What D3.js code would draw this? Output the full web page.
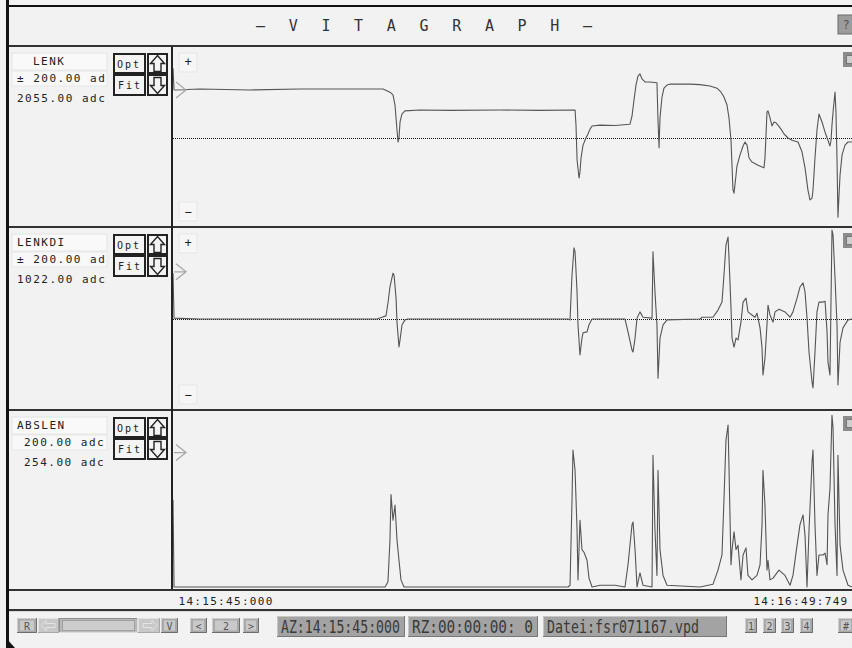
<!DOCTYPE html>
<html>
<head>
<meta charset="utf-8">
<script src="https://cdn.jsdelivr.net/npm/d3@7"></script>
<style>
  html, body { margin: 0; padding: 0; background: #f2f2f2; }
  svg { display: block; }
  text { font-family: "DejaVu Sans Mono", "Liberation Mono", monospace; }
</style>
</head>
<body>
<svg id="chart" width="852" height="648"></svg>
<script>
// ---- recorded channels (time in seconds after 14:15:45.000, values in adc) ----
const lenkT = [0.00,0.10,2.57,7.34,12.11,16.88,20.03,20.69,20.98,21.17,21.36,21.46,21.55,21.65,21.84,22.12,23.55,26.42,31.18,35.00,38.34,38.43,38.53,38.72,38.81,38.91,39.10,39.38,39.57,39.77,39.96,40.72,42.15,43.58,43.77,43.96,44.15,44.34,44.53,44.72,45.01,45.49,46.15,46.25,46.35,46.44,46.63,46.82,47.11,47.39,49.30,50.26,51.21,51.88,52.26,52.54,52.83,53.02,53.21,53.40,53.50,53.69,53.78,54.07,54.36,54.55,54.74,54.93,55.21,55.79,56.17,56.36,56.45,56.55,56.64,56.74,56.93,57.12,57.31,57.50,57.69,57.98,58.27,58.65,59.03,59.60,59.98,60.27,60.55,60.74,60.94,61.03,61.22,61.41,61.60,61.89,62.18,62.46,62.65,62.75,62.84,62.94,63.13,63.22,63.32,63.41,63.51,63.61,63.80,64.08,64.37,64.749];
const lenk  = [2212,2163,2165,2163,2165,2165,2165,2158,2152,2129,2073,2046,2055,2091,2109,2116,2118,2117,2118,2117,2118,2084,2006,1965,1979,2010,2039,2055,2064,2075,2082,2084,2083,2086,2104,2140,2174,2194,2199,2188,2181,2181,2179,2095,2033,2100,2147,2167,2174,2176,2176,2175,2172,2167,2158,2147,2129,2100,2050,1938,1931,1972,1992,2017,2037,2046,2039,2010,2001,1994,1990,1988,2010,2062,2113,2116,2100,2082,2091,2089,2084,2075,2064,2055,2050,2046,2024,1988,1938,1916,1920,1938,2010,2073,2109,2091,2068,2050,2037,2050,2084,2113,2158,2113,2006,1877,1927,1972,2017,2039,2046,2046];

const lenkdiT = [0.00,0.10,2.57,19.45,19.93,20.31,20.50,20.69,20.98,21.08,21.27,21.36,21.55,21.65,21.84,22.12,22.41,37.67,37.86,38.05,38.24,38.34,38.53,38.62,38.81,39.00,39.10,39.48,39.67,39.96,43.10,43.39,43.77,43.87,44.06,44.25,44.53,44.82,45.68,45.77,45.96,46.15,46.25,46.44,46.73,47.11,50.26,50.45,51.49,51.97,52.35,52.54,52.73,52.93,53.02,53.21,53.31,53.50,53.69,53.88,54.16,54.36,54.64,54.83,55.21,55.50,55.69,55.98,56.17,56.26,56.45,56.64,56.74,56.93,57.22,57.41,57.79,58.36,58.84,59.12,59.51,59.79,60.08,60.27,60.46,60.65,60.94,61.03,61.22,61.41,61.60,61.98,62.18,62.37,62.46,62.65,62.84,62.94,63.13,63.32,63.41,63.61,63.89,64.37,64.749];
const lenkdi  = [1125,1024,1022,1022,1026,1029,1058,1094,1125,1121,1069,1015,959,975,1009,1020,1022,1022,1020,1121,1182,1173,1083,1009,941,979,991,993,1009,1022,1022,993,952,948,979,1024,1038,1026,1024,1173,1083,1009,889,979,1009,1020,1022,1026,1026,1042,1060,1121,1188,1206,1159,1047,979,959,979,975,1015,1060,1069,1038,1031,1026,1035,1002,957,896,934,1009,1053,1031,1015,1038,1044,1038,1026,1038,1069,1094,1103,1083,1024,948,880,867,948,1038,1060,1060,1062,993,925,896,1222,1211,1114,1009,874,970,1002,1020,1022];

const abslenT = [0.00,0.10,2.57,20.22,20.50,20.69,20.79,20.98,21.17,21.36,21.55,21.74,22.03,37.67,37.86,38.05,38.14,38.34,38.53,38.62,38.81,39.00,39.19,39.48,39.67,39.96,40.72,42.15,43.10,43.39,43.77,43.87,44.06,44.25,44.53,44.82,45.68,45.77,45.96,46.15,46.25,46.44,46.73,47.11,50.26,51.49,51.97,52.35,52.54,52.73,52.93,53.02,53.21,53.31,53.50,53.69,53.88,54.16,54.36,54.64,54.83,55.21,55.69,55.98,56.17,56.26,56.45,56.64,56.74,56.93,57.22,57.41,57.79,58.36,58.84,59.12,59.51,59.79,60.08,60.27,60.46,60.65,60.94,61.03,61.22,61.41,61.60,61.98,62.18,62.37,62.46,62.65,62.84,62.94,63.13,63.32,63.41,63.61,63.89,64.37,64.749];
const abslen  = [352,254,254,254,260,307,358,329,346,307,284,262,254,254,256,352,408,385,318,262,329,296,293,284,264,254,256,256,254,279,324,327,296,254,270,256,254,402,318,267,385,296,267,256,254,257,273,290,352,419,436,388,279,296,316,296,301,262,290,298,267,262,267,279,324,385,346,273,284,262,264,267,273,267,256,267,301,324,335,312,254,318,395,408,324,267,290,290,292,279,335,365,447,433,324,267,402,301,273,256,254];

// ---- axis and label texts ----
const timeTicks  = [0, 64.749];
const timeLabels = ["14:15:45:000", "14:16:49:749"];
const channelNames  = ["LENK", "LENKDI", "ABSLEN"];
const rangeLabels   = ["\u00b1 200.00 ad", "\u00b1 200.00 ad", "200.00 adc"];
const offsetLabels  = ["2055.00 adc", "1022.00 adc", "254.00 adc"];
const channelDomains = [[1855, 2255], [822, 1222], [254, 454]];
const zeroLines     = [2055, 1022, null];
const markerLevels  = [2163, 1128, 405];

const series = [
  { t: lenkT,   v: lenk },
  { t: lenkdiT, v: lenkdi },
  { t: abslenT, v: abslen }
];

// ---- layout ----
const W = 852, H = 648;
const plotLeft = 173, plotRight = 852;
const panels = [
  { top: 47,  bottom: 226, range: [227, 49] },
  { top: 228, bottom: 409, range: [408, 230] },
  { top: 411, bottom: 589, range: [587, 409] }
];

const svg = d3.select("#chart");
const ink = "#222";

svg.append("rect").attr("width", W).attr("height", H).attr("fill", "#f2f2f2");

const x = d3.scaleLinear().domain([timeTicks[0], timeTicks[1]]).range([plotLeft, plotRight]);

// ---- title bar ----
svg.append("rect").attr("x", 6).attr("y", 5).attr("width", W - 6).attr("height", 2).attr("fill", "#111");
svg.append("text")
  .attr("x", 256).attr("y", 26)
  .attr("dominant-baseline", "central")
  .attr("font-size", 15).attr("fill", "#333")
  .attr("textLength", 336).attr("lengthAdjust", "spacing")
  .text("\u2014 V I T A G R A P H \u2014");
svg.append("rect").attr("x", 838).attr("y", 15).attr("width", 16).attr("height", 19)
  .attr("fill", "#9c9c9c").attr("stroke", "#6a6a6a");
svg.append("text").attr("x", 846).attr("y", 25).attr("dominant-baseline", "central")
  .attr("text-anchor", "middle").attr("font-size", 12).attr("fill", "#555").text("?");

// ---- helpers ----
function hline(y, h, color, x0 = 6, x1 = W) {
  svg.append("rect").attr("x", x0).attr("y", y).attr("width", x1 - x0).attr("height", h).attr("fill", color);
}
function boxButton(g, bx, by, bw, bh) {
  g.append("rect").attr("x", bx + 1).attr("y", by + 1).attr("width", bw - 2).attr("height", bh - 2)
    .attr("fill", "#f4f4f4").attr("stroke", ink).attr("stroke-width", 2);
}
function arrowPath(cx, tipY, dir) {
  // hollow block arrow, dir = -1 for up, +1 for down
  const s = dir;
  const p = d3.path();
  p.moveTo(cx, tipY);
  p.lineTo(cx + 7, tipY - s * 8);
  p.lineTo(cx + 3.5, tipY - s * 8);
  p.lineTo(cx + 3.5, tipY - s * 16);
  p.lineTo(cx - 3.5, tipY - s * 16);
  p.lineTo(cx - 3.5, tipY - s * 8);
  p.lineTo(cx - 7, tipY - s * 8);
  p.closePath();
  return p.toString();
}

hline(45, 2, "#333");

// ---- channel panels ----
panels.forEach((pn, i) => {
  const y0 = pn.top;
  const g = svg.append("g");
  const y = d3.scaleLinear().domain(channelDomains[i]).range(pn.range);

  // label column
  g.append("rect").attr("x", 12).attr("y", y0 + 6).attr("width", 95).attr("height", 17)
    .attr("fill", "#f9f9f9").attr("stroke", "#e4e4e4");
  g.append("rect").attr("x", 12).attr("y", y0 + 24).attr("width", 95).attr("height", 15)
    .attr("fill", "#f8f8f8").attr("stroke", "#e8e8e8");
  g.append("text")
    .attr("x", i === 0 ? 33 : 17).attr("y", y0 + 14)
    .attr("dominant-baseline", "central")
    .attr("font-size", 11).attr("letter-spacing", 1.5).attr("fill", ink)
    .text(channelNames[i]);
  const indent = i === 2 ? 24 : 17;
  g.append("text").attr("x", indent).attr("y", y0 + 31).attr("dominant-baseline", "central")
    .attr("font-size", 11).attr("letter-spacing", 1.5).attr("fill", ink).text(rangeLabels[i]);
  g.append("text").attr("x", indent).attr("y", y0 + 51).attr("dominant-baseline", "central")
    .attr("font-size", 11).attr("letter-spacing", 1.5).attr("fill", ink).text(offsetLabels[i]);

  // Opt / Fit and scale arrows
  boxButton(g, 113, y0 + 6, 33, 21);
  boxButton(g, 113, y0 + 27, 33, 22);
  boxButton(g, 147, y0 + 6, 21, 21);
  boxButton(g, 147, y0 + 27, 21, 22);
  g.append("text").attr("x", 129).attr("y", y0 + 17).attr("text-anchor", "middle")
    .attr("dominant-baseline", "central").attr("font-size", 10).attr("letter-spacing", 2).attr("fill", ink).text("Opt");
  g.append("text").attr("x", 130).attr("y", y0 + 38).attr("text-anchor", "middle")
    .attr("dominant-baseline", "central").attr("font-size", 10).attr("letter-spacing", 2).attr("fill", ink).text("Fit");
  g.append("path").attr("d", arrowPath(157.5, y0 + 8.5, -1)).attr("fill", "none").attr("stroke", ink).attr("stroke-width", 1.4);
  g.append("path").attr("d", arrowPath(157.5, y0 + 46.5, 1)).attr("fill", "none").attr("stroke", ink).attr("stroke-width", 1.4);

  // plot area
  const clipId = "clip" + i;
  svg.append("clipPath").attr("id", clipId).append("rect")
    .attr("x", plotLeft).attr("y", pn.top).attr("width", plotRight - plotLeft).attr("height", pn.bottom - pn.top);

  if (i < 2) {
    g.append("rect").attr("x", 179).attr("y", y0 + 6).attr("width", 18).attr("height", 19)
      .attr("fill", "#f6f6f6").attr("stroke", "#e6e6e6");
    g.append("text").attr("x", 188).attr("y", y0 + 15).attr("text-anchor", "middle")
      .attr("dominant-baseline", "central").attr("font-size", 12).attr("fill", ink).text("+");
    g.append("rect").attr("x", 179).attr("y", pn.bottom - 24).attr("width", 18).attr("height", 19)
      .attr("fill", "#f6f6f6").attr("stroke", "#e6e6e6");
    g.append("text").attr("x", 188).attr("y", pn.bottom - 14).attr("text-anchor", "middle")
      .attr("dominant-baseline", "central").attr("font-size", 12).attr("fill", ink).text("\u2212");
  }

  // small corner button
  g.append("rect").attr("x", 843).attr("y", y0 + 5).attr("width", 10).attr("height", 15).attr("fill", "#8c8c8c");
  g.append("rect").attr("x", 846.5).attr("y", y0 + 8.5).attr("width", 7).attr("height", 8)
    .attr("fill", "#cfcfcf").attr("stroke", "#777");

  const plot = g.append("g").attr("clip-path", `url(#${clipId})`);

  if (zeroLines[i] !== null) {
    plot.append("line")
      .attr("x1", plotLeft).attr("x2", plotRight)
      .attr("y1", Math.round(y(zeroLines[i])) + 0.5).attr("y2", Math.round(y(zeroLines[i])) + 0.5)
      .attr("stroke", "#111").attr("stroke-width", 1).attr("stroke-dasharray", "1,1");
  }

  const s = series[i];
  const pts = s.t.map((t, k) => [t, s.v[k]]);
  const line = d3.line().x(d => x(d[0])).y(d => y(d[1]));
  plot.append("path").datum(pts).attr("d", line)
    .attr("fill", "none").attr("stroke", "#555").attr("stroke-width", 1.1)
    .attr("stroke-linejoin", "round");

  // level marker arrow
  const my = y(markerLevels[i]);
  g.append("path")
    .attr("d", `M${plotLeft + 1},${my} L${plotLeft + 13},${my} M${plotLeft + 3},${my - 8} L${plotLeft + 13},${my} L${plotLeft + 3},${my + 8}`)
    .attr("fill", "none").attr("stroke", "#a8a8a8").attr("stroke-width", 1.3);

  if (i < 2) hline(pn.bottom, 2, "#333");
});

// divider between labels and plots
svg.append("rect").attr("x", 171).attr("y", 47).attr("width", 2).attr("height", 542).attr("fill", ink);
hline(589, 2, "#333");

// ---- time axis ----
const axisG = svg.append("g").attr("transform", "translate(0,600)")
  .call(d3.axisBottom(x).tickValues(timeTicks).tickFormat((d, k) => timeLabels[k]).tickSize(0));
axisG.select(".domain").remove();
axisG.selectAll("text")
  .attr("font-family", "DejaVu Sans Mono, monospace")
  .attr("font-size", 11).attr("letter-spacing", 1.3).attr("fill", ink)
  .attr("y", 1).attr("dy", "0.32em")
  .attr("text-anchor", (d, k) => k === 0 ? "start" : "end")
  .attr("dx", (d, k) => k === 0 ? 5 : -4);

hline(609, 2, "#333");
hline(611, 1, "#d8d8d8");

// ---- tool bar ----
const tb = svg.append("g");
function bevel(bx, by, bw, bh, face, light, dark) {
  tb.append("rect").attr("x", bx).attr("y", by).attr("width", bw).attr("height", bh).attr("fill", face);
  tb.append("path").attr("d", `M${bx + 0.5},${by + bh} V${by + 0.5} H${bx + bw}`).attr("fill", "none").attr("stroke", light);
  tb.append("path").attr("d", `M${bx + bw - 0.5},${by} V${by + bh - 0.5} H${bx}`).attr("fill", "none").attr("stroke", dark);
}
function smallButton(bx, bw, label) {
  bevel(bx, 618, bw, 15, "#a9a9a9", "#cfcfcf", "#6e6e6e");
  tb.append("rect").attr("x", bx + 3).attr("y", 620.5).attr("width", bw - 6).attr("height", 10).attr("fill", "#c9c9c9");
  if (label) {
    tb.append("text").attr("x", bx + bw / 2).attr("y", 626).attr("text-anchor", "middle")
      .attr("dominant-baseline", "central").attr("font-size", 10).attr("fill", "#555").text(label);
  }
}
smallButton(17, 20, "R");
bevel(38, 618, 21, 15, "#c8c8c8", "#e2e2e2", "#a8a8a8");
tb.append("path").attr("d", "M41,625.5 L46,620.5 V623.5 H55 V627.5 H46 V630.5 Z").attr("fill", "none").attr("stroke", "#e4e4e4");
bevel(59, 618, 79, 15, "#b9b9b9", "#8e8e8e", "#dcdcdc");
tb.append("rect").attr("x", 62.5).attr("y", 620.5).attr("width", 72).attr("height", 10).attr("fill", "#cdcdcd").attr("stroke", "#a0a0a0");
bevel(138, 618, 22, 15, "#c8c8c8", "#e2e2e2", "#a8a8a8");
tb.append("path").attr("d", "M157,625.5 L152,620.5 V623.5 H143 V627.5 H152 V630.5 Z").attr("fill", "none").attr("stroke", "#e4e4e4");
smallButton(161, 17, "V");
smallButton(190, 17, "<");
smallButton(212, 28, "2");
smallButton(243, 16, ">");

// status fields: tall, narrow lettering squeezed to the field width
function infoBox(bx, bw, textW, label) {
  bevel(bx, 616, bw, 21, "#a3a3a3", "#c6c6c6", "#777");
  const t = tb.append("text")
    .attr("dominant-baseline", "central")
    .attr("font-family", "DejaVu Sans Mono, monospace")
    .attr("font-size", 17).attr("fill", "#3a3a3a")
    .text(label);
  const natural = t.node().getComputedTextLength();
  t.attr("transform", `translate(${bx + 4},627) scale(${textW / natural},1)`);
}
infoBox(277, 128, 119, "AZ:14:15:45:000");
infoBox(408, 130, 121, "RZ:00:00:00:  0");
infoBox(543, 184, 152, "Datei:fsr071167.vpd");

smallButton(745, 12, "1");
smallButton(763, 13, "2");
smallButton(781, 13, "3");
smallButton(800, 13, "4");
smallButton(838, 16, "#");

// ---- outer frame ----
svg.append("rect").attr("x", 6).attr("y", 0).attr("width", 3).attr("height", H).attr("fill", "#111");
svg.append("path").attr("d", "M6,638 L6,648 L15,648 Z").attr("fill", "#111");
</script>
</body>
</html>
